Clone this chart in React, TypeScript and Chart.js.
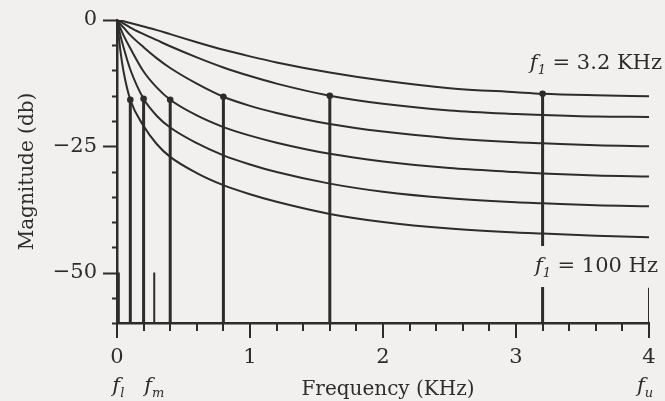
import React, { useEffect, useRef } from "react";
import { Chart, registerables } from "chart.js";

Chart.register(...registerables);

// Frequency samples (kHz) shared by the six response curves
const freqs = [0, 0.025, 0.05, 0.1, 0.2, 0.3, 0.4, 0.6, 0.8, 1.0, 1.2, 1.6, 2.0, 2.5, 3.0, 3.2, 3.6, 4.0];

// Magnitude (dB) of each curve, labelled by its f1
const curveF1_3200 = [0, -0.1, -0.25, -0.6, -1.3, -2.0, -2.8, -4.4, -5.9, -7.2, -8.4, -10.4, -12.0, -13.5, -14.3, -14.6, -14.9, -15.1];
const curveF1_1600 = [0, -0.3, -0.7, -1.5, -2.8, -4.0, -5.2, -7.4, -9.4, -11.1, -12.6, -15.0, -16.6, -17.9, -18.6, -18.8, -19.1, -19.2];
const curveF1_800 = [0, -0.8, -1.5, -3.0, -5.4, -7.6, -9.5, -12.6, -15.2, -17.0, -18.4, -20.6, -22.1, -23.4, -24.2, -24.4, -24.8, -25.0];
const curveF1_400 = [0, -1.6, -3.1, -5.6, -10.2, -13.4, -15.8, -18.9, -21.2, -22.9, -24.3, -26.5, -28.0, -29.3, -30.1, -30.4, -30.8, -31.0];
const curveF1_200 = [0, -3.0, -5.5, -9.8, -15.6, -19.0, -21.3, -24.4, -26.8, -28.6, -30.1, -32.4, -34.0, -35.3, -36.1, -36.3, -36.7, -36.9];
const curveF1_100 = [0, -6.0, -10.3, -15.8, -21.0, -24.6, -27.1, -30.3, -32.7, -34.5, -36.0, -38.4, -40.0, -41.3, -42.1, -42.3, -42.7, -43.0];

// Stems at each f1 (kHz) and their tops (dB)
const stemFreqs = [0.1, 0.2, 0.4, 0.8, 1.6, 3.2];
const stemTops = [-15.8, -15.6, -15.8, -15.2, -15.0, -14.6];

// Short markers for f_l, f_m, f_u
const markerFreqs = [0.01, 0.28, 4.0];
const markerTops = [-50, -50, -53];
const markerNames = ["l", "m", "u"];

// Axis ticks
const yMin = -60;
const yMax = 0;
const xMin = 0;
const xMax = 4;
const yTickLabels = [0, -25, -50];
const xTickLabels = [0, 1, 2, 3, 4];
const yMinorStep = 5;
const xMinorStep = 0.2;

const topLabel = { sub: "1", text: " = 3.2 KHz" };
const bottomLabel = { sub: "1", text: " = 100 Hz" };
const xTitle = "Frequency (KHz)";
const yTitle = "Magnitude (db)";

const BG = "#f1f0ee";
const INK = "#2c2c2c";
const FONT = "'DejaVu Serif', 'Liberation Serif', serif";

function drawF(ctx: CanvasRenderingContext2D, x: number, y: number, sub: string, rest: string, size: number, align: "left" | "right" | "center") {
  ctx.save();
  ctx.fillStyle = INK;
  ctx.textBaseline = "alphabetic";
  ctx.textAlign = "left";
  const fMain = `italic ${size}px ${FONT}`;
  const fSub = `italic ${Math.round(size * 0.62)}px ${FONT}`;
  const fRest = `${size}px ${FONT}`;
  ctx.font = fMain;
  const w1 = ctx.measureText("f").width;
  ctx.font = fSub;
  const w2 = ctx.measureText(sub).width;
  ctx.font = fRest;
  const w3 = rest ? ctx.measureText(rest).width : 0;
  const total = w1 + w2 + w3;
  let x0 = x;
  if (align === "right") x0 = x - total;
  if (align === "center") x0 = x - total / 2;
  ctx.font = fMain;
  ctx.fillText("f", x0, y);
  ctx.font = fSub;
  ctx.fillText(sub, x0 + w1, y + size * 0.22);
  if (rest) {
    ctx.font = fRest;
    ctx.fillText(rest, x0 + w1 + w2, y);
  }
  ctx.restore();
}

const decorPlugin = {
  id: "decor",
  beforeDraw(chart: any) {
    const ctx = chart.ctx;
    ctx.save();
    ctx.fillStyle = BG;
    ctx.fillRect(0, 0, chart.width, chart.height);
    ctx.restore();
  },
  afterDraw(chart: any) {
    const ctx: CanvasRenderingContext2D = chart.ctx;
    const xs = chart.scales.x;
    const ys = chart.scales.y;
    const { left, bottom, right, top } = chart.chartArea;
    ctx.save();
    ctx.strokeStyle = INK;
    ctx.lineWidth = 2;
    // y ticks
    for (let v = yMax; v >= yMin; v -= yMinorStep) {
      const py = Math.round(ys.getPixelForValue(v)) + 0.5;
      const major = yTickLabels.includes(v);
      const len = major ? 14 : 5;
      ctx.beginPath();
      ctx.moveTo(left - len, py);
      ctx.lineTo(left, py);
      ctx.stroke();
    }
    // x ticks
    const n = Math.round((xMax - xMin) / xMinorStep);
    for (let i = 0; i <= n; i++) {
      const v = xMin + i * xMinorStep;
      const px = Math.round(xs.getPixelForValue(v));
      const major = Math.abs(v - Math.round(v)) < 1e-6;
      const len = major ? 15 : 8;
      ctx.beginPath();
      ctx.moveTo(px, bottom);
      ctx.lineTo(px, bottom + len);
      ctx.stroke();
    }
    ctx.restore();

    // label box over the f1 = 3.2 stem
    const bx = xs.getPixelForValue(3.2);
    ctx.save();
    ctx.fillStyle = BG;
    ctx.fillRect(bx - 18, 246, 662 - (bx - 18), 41);
    ctx.restore();
    drawF(ctx, 662, 69, topLabel.sub, topLabel.text, 21, "right");
    drawF(ctx, 658, 272, bottomLabel.sub, bottomLabel.text, 21, "right");

    // f_l, f_m, f_u labels
    markerFreqs.forEach((f, i) => {
      const px = xs.getPixelForValue(f);
      drawF(ctx, px + (i === 2 ? -4 : 0), 392, markerNames[i], "", 21, "center");
    });

    // axis titles
    ctx.save();
    ctx.fillStyle = INK;
    ctx.font = `20px ${FONT}`;
    ctx.textAlign = "center";
    ctx.textBaseline = "alphabetic";
    ctx.fillText(xTitle, (left + right) / 2 + 5, 395);
    ctx.translate(33, (top + bottom) / 2);
    ctx.rotate(-Math.PI / 2);
    ctx.fillText(yTitle, 0, 0);
    ctx.restore();
  },
};

export default function App() {
  const ref = useRef<HTMLCanvasElement | null>(null);
  useEffect(() => {
    if (!ref.current) return;
    const curves = [curveF1_3200, curveF1_1600, curveF1_800, curveF1_400, curveF1_200, curveF1_100];
    const datasets: any[] = [];
    curves.forEach((c) => {
      datasets.push({
        data: freqs.map((f, i) => ({ x: f, y: c[i] })),
        showLine: true,
        borderColor: INK,
        borderWidth: 2,
        pointRadius: 0,
        cubicInterpolationMode: "monotone",
      });
    });
    stemFreqs.forEach((f, i) => {
      datasets.push({
        data: [
          { x: f, y: yMin },
          { x: f, y: stemTops[i] },
        ],
        showLine: true,
        borderColor: INK,
        borderWidth: 3,
        pointRadius: [0, 3.3],
        pointBackgroundColor: INK,
        pointBorderWidth: 0,
      });
    });
    markerFreqs.forEach((f, i) => {
      datasets.push({
        data: [
          { x: f, y: yMin },
          { x: f, y: markerTops[i] },
        ],
        showLine: true,
        borderColor: INK,
        borderWidth: i === 0 ? 3 : 2,
        pointRadius: 0,
      });
    });

    const chart = new Chart(ref.current, {
      type: "scatter",
      data: { datasets },
      options: {
        animation: false,
        responsive: false,
        devicePixelRatio: 1,
        layout: { padding: { left: 0, top: 20, right: 16, bottom: 0 } },
        plugins: { legend: { display: false }, tooltip: { enabled: false } },
        scales: {
          x: {
            type: "linear",
            min: xMin,
            max: xMax,
            afterBuildTicks: (s: any) => {
              s.ticks = xTickLabels.map((v) => ({ value: v }));
            },
            afterFit: (s: any) => {
              s.height = 78;
              s.paddingLeft = 0;
              s.paddingRight = 0;
            },
            ticks: {
              color: INK,
              font: { family: FONT, size: 21 },
              padding: 22,
              maxRotation: 0,
              autoSkip: false,
              callback: (v: any) => String(v),
            },
            grid: { display: false, drawTicks: false },
            border: { display: true, color: INK, width: 2.5 },
          },
          y: {
            type: "linear",
            min: yMin,
            max: yMax,
            afterBuildTicks: (s: any) => {
              s.ticks = yTickLabels.map((v) => ({ value: v }));
            },
            afterFit: (s: any) => {
              s.width = 117;
              s.paddingTop = 0;
              s.paddingBottom = 0;
            },
            ticks: {
              color: INK,
              font: { family: FONT, size: 21 },
              padding: 20,
              autoSkip: false,
              callback: (v: any) => (v < 0 ? "\u2212" + Math.abs(v) : String(v)),
            },
            grid: { display: false, drawTicks: false },
            border: { display: true, color: INK, width: 2.5 },
          },
        },
      },
      plugins: [decorPlugin],
    } as any);
    return () => chart.destroy();
  }, []);
  return (
    <div style={{ position: "fixed", left: 0, top: 0, width: 665, height: 401 }}>
      <canvas ref={ref} width={665} height={401} />
    </div>
  );
}
